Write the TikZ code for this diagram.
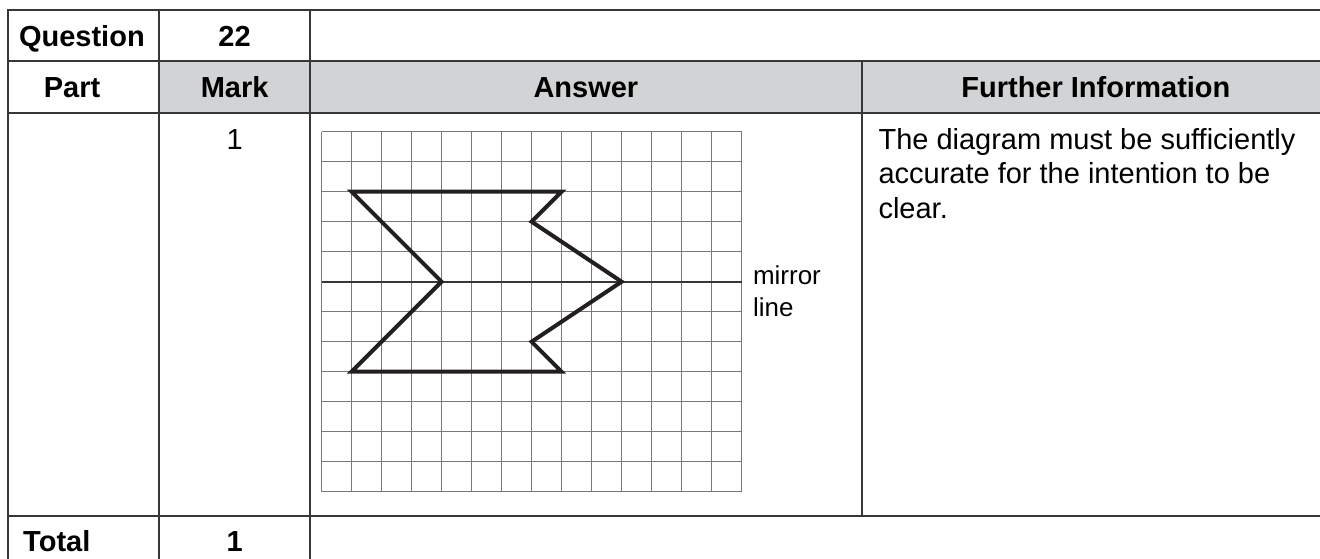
\documentclass[tikz,border=0pt]{standalone}
\usepackage{fontspec}
\setmainfont{Liberation Sans}
\definecolor{headgray}{RGB}{209,211,212}
\definecolor{rulegray}{RGB}{55,55,55}
\definecolor{gridgray}{RGB}{120,120,120}
\definecolor{inkblack}{RGB}{35,31,32}
\tikzset{
  cell/.style={font=\fontsize{13.75}{16.5}\selectfont\bfseries, anchor=base, inner sep=0pt},
  body/.style={font=\fontsize{13.75}{16.36}\selectfont, anchor=base, inner sep=0pt},
  rule/.style={rulegray, line width=0.7pt}
}
\begin{document}
\begin{tikzpicture}[x=0.5cm,y=0.5cm]
  \clip (0,0) rectangle (44,18.63);
  % Header shading
  \fill[headgray] (5.3,14.867) rectangle (44.5,16.6);

  % Table rules
  \draw[rule] (0.27,-0.5) -- (0.27,18.3) -- (44.5,18.3);
  \foreach \y in {16.6,14.867,1.433}
    \draw[rule] (0.27,\y) -- (44.5,\y);
  \foreach \x in {5.3,10.33}
    \draw[rule] (\x,-0.5) -- (\x,18.3);
  \draw[rule] (28.73,1.433) -- (28.73,16.6);

  % Cell texts
  \node[cell] (question) at (2.73,17.077) {Question};
  \node[cell] (qnum) at (7.82,17.077) {22};
  \node[cell] (part) at (2.4,15.39) {Part};
  \node[cell] (mark) at (7.82,15.39) {Mark};
  \node[cell] (answer) at (19.53,15.39) {Answer};
  \node[cell] (further) at (36.53,15.39) {Further Information};
  \node[body] (markval) at (7.82,13.657) {1};
  \node[body, anchor=base west, align=left] (info) at (29.27,11.357)
    {The diagram must be sufficiently\\accurate for the intention to be\\clear.};
  \node[cell, anchor=base west] (total) at (0.76,0.243) {Total};
  \node[cell] (totalval) at (7.82,0.243) {1};

  % Squared paper with the figure
  \begin{scope}[shift={(10.72,2.24)}]
    \draw[gridgray, line width=0.6pt] (0,0) grid[step=1] (14,12);
    \draw[rulegray, line width=0.8pt] (0,7) -- (14,7);
    \draw[inkblack, line width=1.9pt] (1,10) -- (8,10) -- (7,9) -- (10,7)
      -- (7,5) -- (8,4) -- (1,4) -- (4,7) -- cycle;
    \node[body, anchor=base west, align=left, font=\fontsize{12.3}{15}\selectfont]
      (mirror) at (14.37,5.84) {mirror\\line};
  \end{scope}
\end{tikzpicture}
\end{document}
